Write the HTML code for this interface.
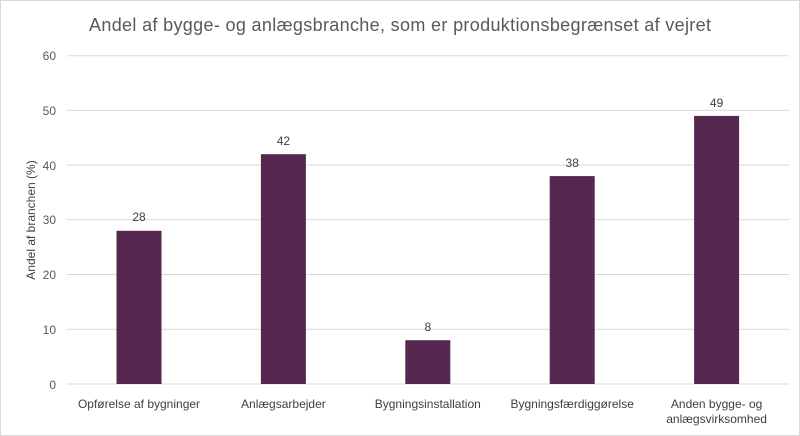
<!DOCTYPE html>
<html><head><style>
body{margin:0;background:#fff;}
svg{display:block;font-family:"Liberation Sans",sans-serif;}
</style></head><body>
<svg width="800" height="436" viewBox="0 0 800 436" xmlns="http://www.w3.org/2000/svg">
<rect x="0.5" y="0.5" width="799" height="435" fill="#fff" stroke="#d9d9d9"/>
<text x="400" y="31" text-anchor="middle" font-size="18" fill="#595959" textLength="622" lengthAdjust="spacing">Andel af bygge- og anlægsbranche, som er produktionsbegrænset  af vejret</text>
<g stroke="#d9d9d9" stroke-width="1">
<line x1="67" x2="789" y1="55.7" y2="55.7"/>
<line x1="67" x2="789" y1="110.4" y2="110.4"/>
<line x1="67" x2="789" y1="165.1" y2="165.1"/>
<line x1="67" x2="789" y1="219.8" y2="219.8"/>
<line x1="67" x2="789" y1="274.5" y2="274.5"/>
<line x1="67" x2="789" y1="329.2" y2="329.2"/>
<line x1="67" x2="789" y1="384" y2="384"/>
</g>
<g font-size="12" fill="#595959" text-anchor="end">
<text x="56" y="60">60</text><text x="56" y="115">50</text><text x="56" y="170">40</text>
<text x="56" y="224">30</text><text x="56" y="279">20</text><text x="56" y="334">10</text><text x="56" y="389">0</text>
</g>
<text transform="translate(35,220) rotate(-90)" text-anchor="middle" font-size="12" fill="#404040">Andel af branchen (%)</text>
<g fill="#56284f">
<rect x="116.5" y="230.8" width="45" height="153.2"/>
<rect x="260.9" y="154.2" width="45" height="229.8"/>
<rect x="405.3" y="340.2" width="45" height="43.8"/>
<rect x="549.7" y="176.1" width="45" height="207.9"/>
<rect x="694.1" y="115.9" width="45" height="268.1"/>
</g>
<g font-size="12" fill="#404040" text-anchor="middle">
<text x="139" y="221">28</text><text x="283.4" y="145">42</text><text x="427.8" y="331">8</text>
<text x="572.2" y="167">38</text><text x="716.6" y="107">49</text>
</g>
<g font-size="12" fill="#404040" text-anchor="middle">
<text x="139" y="408">Opførelse af bygninger</text>
<text x="283.4" y="408">Anlægsarbejder</text>
<text x="427.8" y="408">Bygningsinstallation</text>
<text x="572.2" y="408">Bygningsfærdiggørelse</text>
<text x="716.6" y="408">Anden bygge- og</text>
<text x="716.6" y="423">anlægsvirksomhed</text>
</g>
</svg>
</body></html>
